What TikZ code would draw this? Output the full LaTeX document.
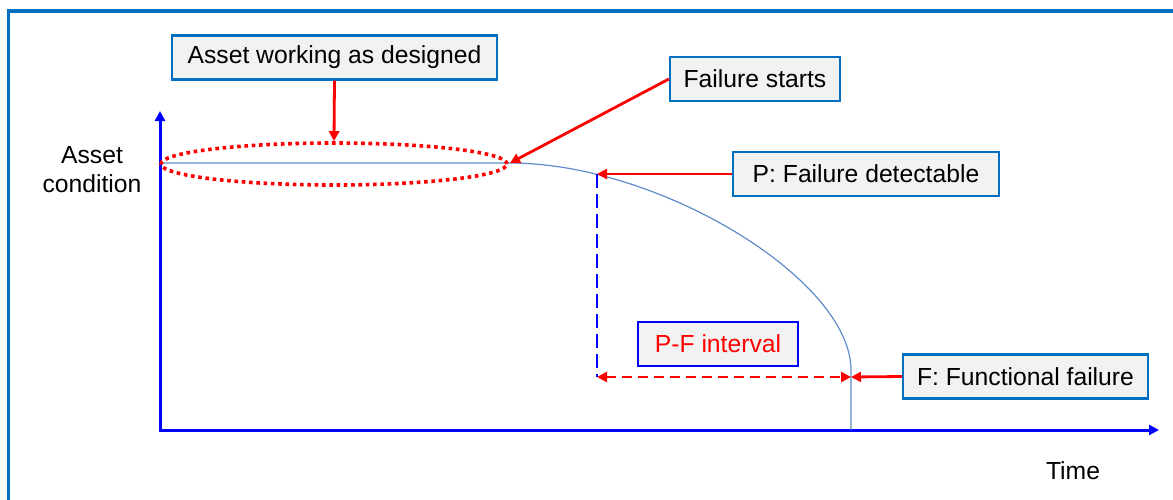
\documentclass[tikz,border=0pt]{standalone}
\usepackage{fontspec}
\setmainfont{Liberation Sans}
\usetikzlibrary{arrows.meta,shapes.geometric}
\definecolor{frameblue}{RGB}{0,112,192}
\definecolor{boxfill}{RGB}{242,242,242}
\definecolor{curveblue}{RGB}{95,140,200}
\begin{document}
\begin{tikzpicture}[x=1pt,y=-1pt,
  every node/.style={font=\fontsize{24.7}{29}\selectfont, inner sep=0pt},
  labelbox/.style={draw=frameblue, line width=2.2pt, fill=boxfill, minimum height=44pt, text=black},
  pfbox/.style={draw=blue, line width=2.7pt, fill=boxfill, minimum height=44pt, text=red},
  redarrow/.style={draw=red, line width=2.8pt, -{Triangle[length=10pt,width=10pt]}},
  axisline/.style={draw=blue, line width=3pt, line join=miter, {Triangle[length=10pt,width=10pt]}-{Triangle[length=10pt,width=10pt]}},
  curveline/.style={draw=curveblue, line width=1.2pt},
  pdash/.style={draw=blue, line width=2.8pt, dash pattern=on 14pt off 6pt},
  pfdash/.style={draw=red, line width=2.8pt, dash pattern=on 10pt off 6pt, {Triangle[length=10pt,width=10pt]}-{Triangle[length=10pt,width=10pt]}},
  dotell/.style={ellipse, draw=red, line width=3.6pt, dash pattern=on 3.6pt off 3.7pt, minimum width=346pt, minimum height=42pt}
]
\useasboundingbox (0,0) rectangle (1173,499);
% outer frame
\draw[frameblue, line width=3.2pt] (8.5,530) -- (8.5,11) -- (1200,11);

% axes
\coordinate (ytip) at (160,111);
\coordinate (origin) at (160,430);
\coordinate (xtip) at (1159,430);
\draw[axisline] (ytip) -- (origin) -- (xtip);

% key points
\coordinate (c0) at (160,163);
\coordinate (fs) at (510,163);
\coordinate (pp) at (597,174);
\coordinate (ff) at (851,377);
\coordinate (fbase) at (851,430);
\coordinate (pbase) at (597,377);

% asset condition curve
\draw[curveline] (c0) -- (fs) .. controls (660,163) and (851,280) .. (851,370) -- (fbase);

% dotted ellipse
\node[dotell] (ell) at (334,164) {};

% P-F dashed lines
\draw[pdash] (pp) -- (pbase);
\draw[pfdash] (pbase) -- (ff);

% labels
\node[labelbox, minimum width=325pt] (awd) at (334.5,57.5) {Asset working as designed};
\node[labelbox, minimum width=170pt] (fsb) at (755,79) {Failure starts};
\node[labelbox, minimum width=266pt] (pb) at (866,174) {P: Failure detectable};
\node[pfbox, minimum width=160pt] (pfb) at (718,344) {P-F interval};
\node[labelbox, minimum width=245pt] (fb) at (1025.5,376.5) {F: Functional failure};

\node[align=center] (ac) at (92,169.5) {Asset\\condition};
\node (time) at (1073,471) {Time};

% arrows
\draw[redarrow] (awd.south) -- (ell.north);
\draw[redarrow] (fsb.west) -- (fs);
\draw[redarrow] (pb.west) -- (pp);
\draw[redarrow] (fb.west) -- (ff);
\end{tikzpicture}
\end{document}
